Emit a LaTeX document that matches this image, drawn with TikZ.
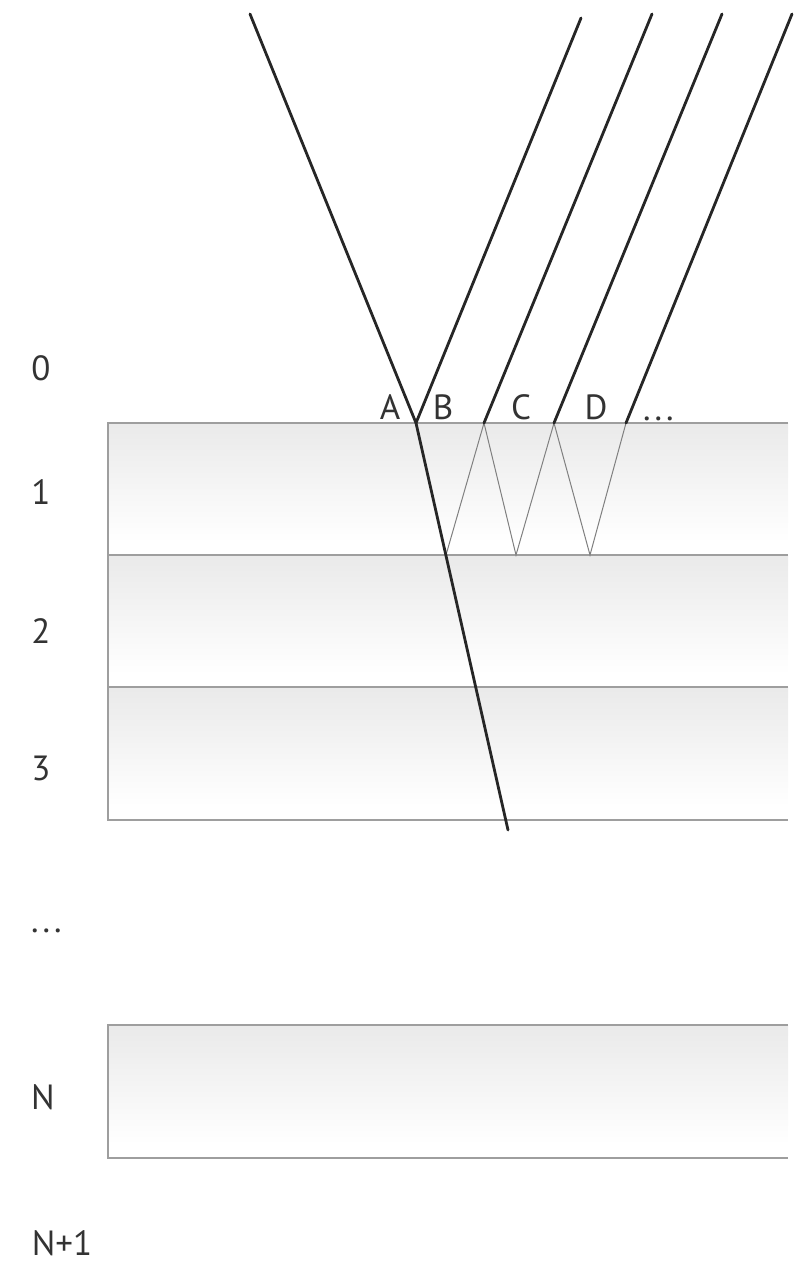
\documentclass[tikz,border=0pt]{standalone}
\usepackage{fontspec}
\setmainfont{PT Sans}
\pgfdeclareverticalshading{layershade}{100bp}{color(0bp)=(white); color(30bp)=(white); color(100bp)=(black!13)}
\begin{document}
\begin{tikzpicture}[x=1pt,y=-1pt,
  layerbox/.style={shading=layershade},
  edge/.style={draw=black!38, line width=1.8pt},
  ray/.style={line width=2.8pt, black!85, line cap=round},
  thinray/.style={line width=1pt, black!50},
  lbl/.style={font=\fontsize{35}{40}\selectfont, text=black!80, inner sep=0pt}]
\useasboundingbox (0,0) rectangle (801,1271);
% layers
\shade[layerbox] (108,423) rectangle (788,555);
\shade[layerbox] (108,555) rectangle (788,687);
\shade[layerbox] (108,687) rectangle (788,820);
\shade[layerbox] (108,1025) rectangle (788,1158);
\draw[edge] (788,423) -- (108,423) -- (108,820) -- (788,820);
\draw[edge] (108,555) -- (788,555);
\draw[edge] (108,687) -- (788,687);
\draw[edge] (788,1025) -- (108,1025) -- (108,1158) -- (788,1158);
% coordinates
\coordinate (src) at (250,14);
\coordinate (A) at (416,423);
\coordinate (r1) at (446,555);
\coordinate (end) at (508,830);
\coordinate (C1) at (484,423);
\coordinate (b2) at (516,555);
\coordinate (C2) at (554,423);
\coordinate (b3) at (590,555);
\coordinate (C3) at (626,423);
\coordinate (t0) at (581,18);
\coordinate (t1) at (652,14);
\coordinate (t2) at (722,14);
\coordinate (t3) at (792,14);
% thin internal reflections
\draw[thinray] (r1) -- (C1) -- (b2) -- (C2) -- (b3) -- (C3);
% rays
\draw[ray] (src) -- (A) -- (end);
\draw[ray] (A) -- (t0);
\draw[ray] (C1) -- (t1);
\draw[ray] (C2) -- (t2);
\draw[ray] (C3) -- (t3);
% labels
\node[lbl] (la) at (390,407) {A};
\node[lbl] (lb) at (443,407) {B};
\node[lbl] (lc) at (521,407) {C};
\node[lbl] (ld) at (596,407) {D};
\node[lbl,anchor=base west] (le) at (643,420) {.\kern4pt.\kern4pt.};
\node[lbl] (l0) at (41,368) {0};
\node[lbl] (l1) at (41,492) {1};
\node[lbl] (l2) at (41,631) {2};
\node[lbl] (l3) at (41,768) {3};
\node[lbl,anchor=base west] (ldots) at (31,932) {.\kern4pt.\kern4pt.};
\node[lbl] (lN) at (43,1097) {N};
\node[lbl] (lN1) at (62,1243) {N+1};
\end{tikzpicture}
\end{document}
